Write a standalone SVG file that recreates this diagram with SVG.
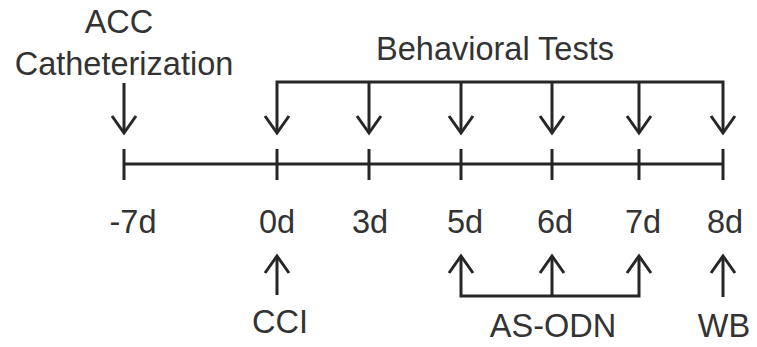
<svg xmlns="http://www.w3.org/2000/svg" width="757" height="347" viewBox="0 0 757 347">
<style>
  .ln { stroke: #262626; stroke-width: 3; fill: none; stroke-linecap: butt; stroke-linejoin: miter; }
  .t { font-family: "Liberation Sans", Arial, sans-serif; font-size: 32.5px; fill: #333333; text-anchor: middle; }
</style>
<defs>
  <polyline id="dn" points="-12,-17 0,0 12,-17" class="ln"/>
  <polyline id="up" points="-12,17 0,0 12,17" class="ln"/>
</defs>
<rect width="757" height="347" fill="#ffffff"/>
<g id="connectors">
  <!-- timeline -->
  <line class="ln" x1="124" y1="164" x2="723" y2="164"/>
  <line class="ln" x1="124" y1="149" x2="124" y2="180"/>
  <line class="ln" x1="277" y1="149" x2="277" y2="180"/>
  <line class="ln" x1="369" y1="149" x2="369" y2="180"/>
  <line class="ln" x1="461" y1="149" x2="461" y2="180"/>
  <line class="ln" x1="552" y1="149" x2="552" y2="180"/>
  <line class="ln" x1="639" y1="149" x2="639" y2="180"/>
  <line class="ln" x1="723" y1="149" x2="723" y2="180"/>
  <!-- ACC arrow -->
  <line class="ln" x1="124" y1="83" x2="124" y2="132"/>
  <use href="#dn" x="124" y="133"/>
  <!-- Behavioral tests bracket -->
  <polyline class="ln" points="277,132 277,82 723,82 723,132"/>
  <line class="ln" x1="369" y1="82" x2="369" y2="132"/>
  <line class="ln" x1="461" y1="82" x2="461" y2="132"/>
  <line class="ln" x1="552" y1="82" x2="552" y2="132"/>
  <line class="ln" x1="639" y1="82" x2="639" y2="132"/>
  <use href="#dn" x="277" y="133"/>
  <use href="#dn" x="369" y="133"/>
  <use href="#dn" x="461" y="133"/>
  <use href="#dn" x="552" y="133"/>
  <use href="#dn" x="639" y="133"/>
  <use href="#dn" x="723" y="133"/>
  <!-- CCI arrow -->
  <line class="ln" x1="277" y1="257" x2="277" y2="295"/>
  <use href="#up" x="277" y="256"/>
  <!-- AS-ODN bracket -->
  <polyline class="ln" points="461,257 461,296 639,296 639,257"/>
  <line class="ln" x1="552" y1="257" x2="552" y2="296"/>
  <use href="#up" x="461" y="256"/>
  <use href="#up" x="552" y="256"/>
  <use href="#up" x="639" y="256"/>
  <!-- WB arrow -->
  <line class="ln" x1="723" y1="257" x2="723" y2="297"/>
  <use href="#up" x="723" y="256"/>
</g>
<g id="acc"><text class="t" x="119" y="33">ACC</text><text class="t" x="124" y="75">Catheterization</text></g>
<g id="behavioral"><text class="t" x="495" y="60">Behavioral Tests</text></g>
<g id="day-m7"><text class="t" x="133" y="233">-7d</text></g>
<g id="day-0"><text class="t" x="277" y="233">0d</text></g>
<g id="day-3"><text class="t" x="370" y="233">3d</text></g>
<g id="day-5"><text class="t" x="465" y="233">5d</text></g>
<g id="day-6"><text class="t" x="555" y="233">6d</text></g>
<g id="day-7"><text class="t" x="643" y="233">7d</text></g>
<g id="day-8"><text class="t" x="725" y="233">8d</text></g>
<g id="cci"><text class="t" x="280" y="333">CCI</text></g>
<g id="asodn"><text class="t" x="553" y="337">AS-ODN</text></g>
<g id="wb"><text class="t" x="724" y="337">WB</text></g>
</svg>
